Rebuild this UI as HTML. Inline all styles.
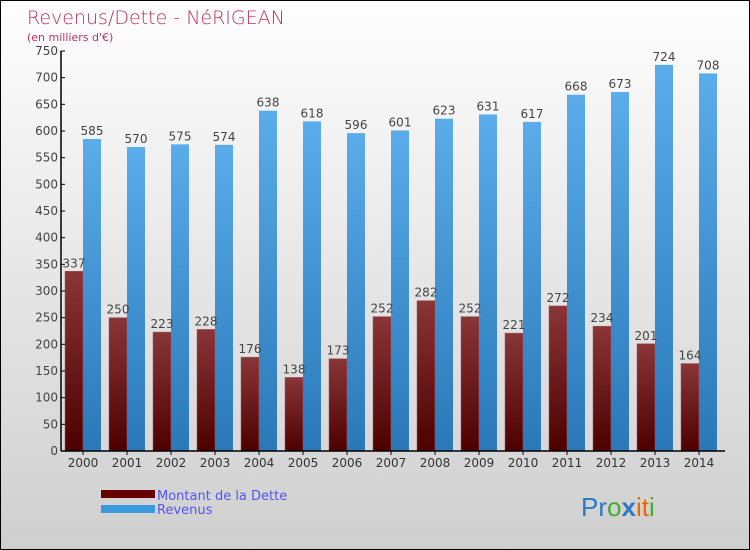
<!DOCTYPE html>
<html><head><meta charset="utf-8"><style>
body{margin:0}
#wrap{width:750px;height:550px;position:relative;box-sizing:border-box;border:1px solid #000;background:linear-gradient(#fefefe,#cfcfcf);font-family:"DejaVu Sans","Liberation Sans",sans-serif;overflow:hidden}
</style></head><body>
<div id="wrap">
<svg id="chart" width="750" height="550" style="position:absolute;left:0;top:0">
<defs>
<linearGradient id="gd" x1="0" y1="0" x2="0" y2="1"><stop offset="0" stop-color="#8a3538"/><stop offset="1" stop-color="#4d0000"/></linearGradient>
<linearGradient id="gr" x1="0" y1="0" x2="0" y2="1"><stop offset="0" stop-color="#5aacea"/><stop offset="1" stop-color="#2a78b8"/></linearGradient>
</defs>
<text x="26" y="23" font-size="19" fill="#c03060" font-weight="300">Revenus/Dette - NéRIGEAN</text>
<text x="26" y="40" font-size="11" fill="#c03060">(en milliers d'€)</text>
<g id="bars"></g>
<g id="axes"></g>
<rect x="100" y="489" width="54" height="8" fill="#660000"/>
<rect x="100" y="504" width="54" height="8" fill="#3a9ae0"/>
<text x="156" y="499" font-size="13" fill="#5555ee">Montant de la Dette</text>
<text x="156" y="513" font-size="13" fill="#5555ee">Revenus</text>
<text x="580" y="515" font-size="26" font-family="Liberation Sans, sans-serif"><tspan fill="#2a7ac8">Pr</tspan><tspan fill="#44aa33">o</tspan><tspan fill="#2a7ac8" font-weight="bold">x</tspan><tspan fill="#ee6600">i</tspan><tspan fill="#ee6600">t</tspan><tspan fill="#44aa33">i</tspan></text>
</svg>
</div>
<script>
const years=["2000","2001","2002","2003","2004","2005","2006","2007","2008","2009","2010","2011","2012","2013","2014"];
const debt=[337,250,223,228,176,138,173,252,282,252,221,272,234,201,164];
const revenue=[585,570,575,574,638,618,596,601,623,631,617,668,673,724,708];
const yTicks=[0,50,100,150,200,250,300,350,400,450,500,550,600,650,700,750];
const NS="http://www.w3.org/2000/svg";
const x0=60,y0=450,yMax=750,plotH=400,step=44,bw=18;
const yS=v=>y0-v/yMax*plotH;
const xS=i=>x0+4+i*step;
function mk(t,a){const e=document.createElementNS(NS,t);for(const k in a)e.setAttribute(k,a[k]);return e;}
const bars=document.getElementById('bars'),axes=document.getElementById('axes');
years.forEach((y,i)=>{
 const xd=xS(i);
 const d=mk('rect',{x:xd,y:yS(debt[i]),width:bw,height:y0-yS(debt[i]),fill:'url(#gd)',stroke:'#9a5a5c','stroke-width':0.5});
 
 
 bars.appendChild(d);
 const r=mk('rect',{x:xd+bw,y:yS(revenue[i]),width:bw,height:y0-yS(revenue[i]),fill:'url(#gr)'});
 
 
 bars.appendChild(r);
 const td=mk('text',{x:xd+bw/2,y:yS(debt[i])-4,'font-size':12,fill:'#444','text-anchor':'middle'});
 td.textContent=debt[i];
 
 
 bars.appendChild(td);
 const tr=mk('text',{x:xd+bw*1.5,y:yS(revenue[i])-4,'font-size':12,fill:'#444','text-anchor':'middle'});
 tr.textContent=revenue[i];
 
 
 bars.appendChild(tr);
 const tx=mk('text',{x:xd+bw,y:466,'font-size':12,fill:'#333','text-anchor':'middle'});
 tx.textContent=y;
 
 
 axes.appendChild(tx);
 const tk=mk('line',{x1:xd+bw,x2:xd+bw,y1:y0,y2:y0+4,stroke:'#000'});
 
 
 axes.appendChild(tk);
});
yTicks.forEach(v=>{
 const l=mk('line',{x1:x0,x2:x0+4,y1:yS(v),y2:yS(v),stroke:'#000'});
 
 
 axes.appendChild(l);
 const t=mk('text',{x:x0-3,y:yS(v)+4,'font-size':12,fill:'#444','text-anchor':'end'});
 t.textContent=v;
 
 
 axes.appendChild(t);
});
const ya=mk('line',{x1:x0,x2:x0,y1:yS(yMax),y2:y0,stroke:'#000','stroke-width':1.5});


axes.appendChild(ya);
const xa=mk('line',{x1:x0,x2:724,y1:y0,y2:y0,stroke:'#000','stroke-width':1.5});


axes.appendChild(xa);
</script>
</body></html>
